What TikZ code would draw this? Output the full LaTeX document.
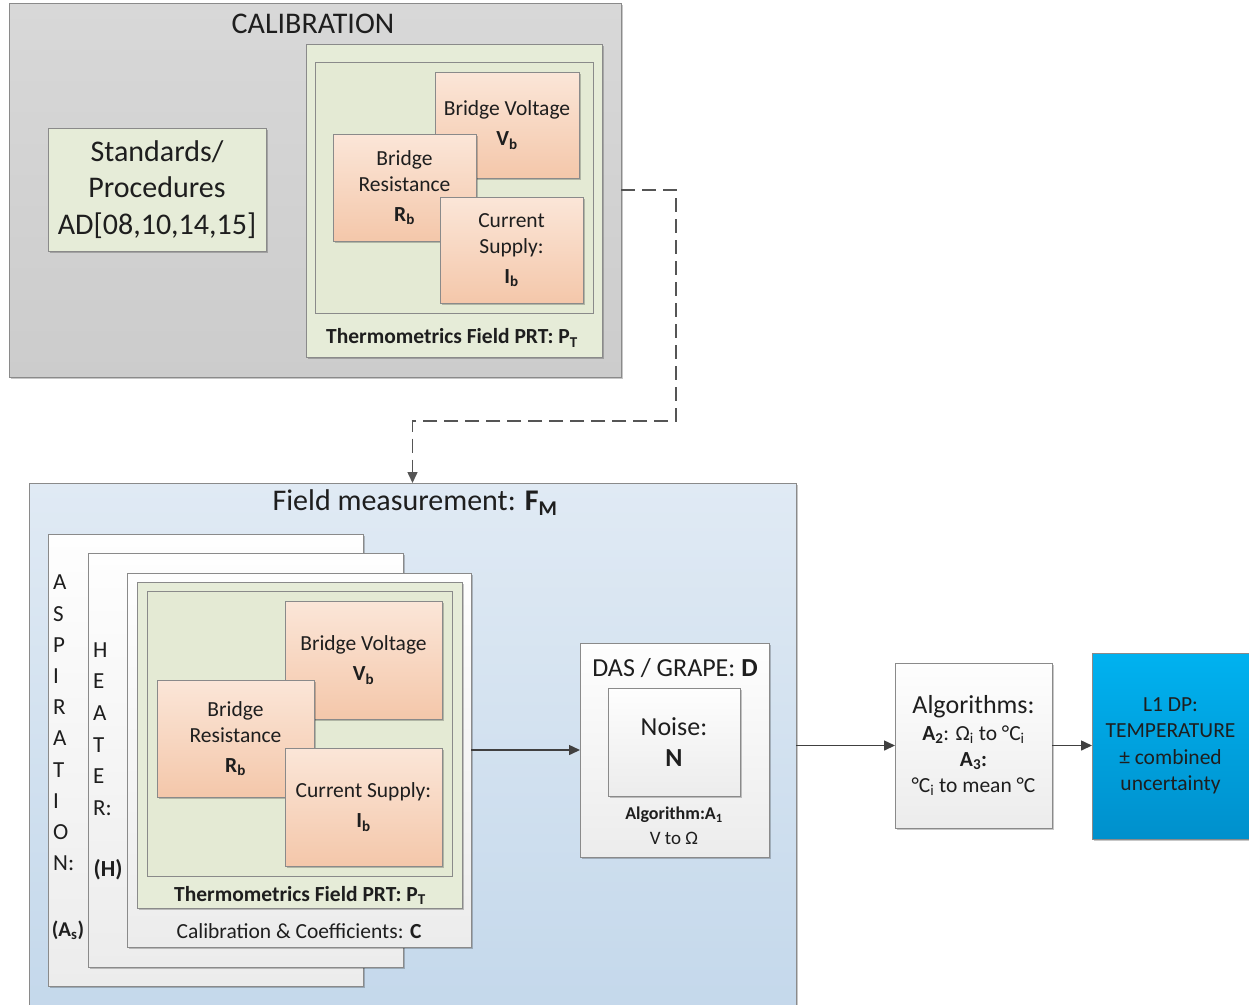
\documentclass[tikz,border=0pt]{standalone}
\usepackage{fontspec}
\setmainfont{Carlito}
\usetikzlibrary{arrows.meta,fit,shadows}
\definecolor{txt}{HTML}{1E1E1E}
\definecolor{bord}{HTML}{8A8A8A}
\definecolor{grayT}{HTML}{D8D8D8}
\definecolor{grayB}{HTML}{CCCCCC}
\definecolor{grn}{HTML}{E6ECD8}
\definecolor{grn2}{HTML}{E4EAD4}
\definecolor{peachT}{HTML}{FBE6D8}
\definecolor{peachB}{HTML}{F4C7AA}
\definecolor{blueT}{HTML}{E0EAF4}
\definecolor{blueB}{HTML}{C4D8EB}
\definecolor{whT}{HTML}{FEFEFE}
\definecolor{whB}{HTML}{ECECEC}
\definecolor{cyT}{HTML}{00B2F0}
\definecolor{cyB}{HTML}{0090CC}
\definecolor{arr}{HTML}{404040}
\definecolor{dsh}{HTML}{555555}
\newcommand\fsz[2]{\fontsize{#1}{#2}\selectfont}
\begin{document}
\begin{tikzpicture}[x=1pt,y=-1pt,
  every node/.style={text=txt},
  bx/.style={draw=bord, line width=1pt, inner sep=0pt, outer sep=0pt},
  shd/.style={drop shadow={shadow xshift=2pt, shadow yshift=-2pt, opacity=0.22, fill=black}},
  graybox/.style={bx, shd, top color=grayT, bottom color=grayB},
  grnbox/.style={bx, shd, fill=grn},
  grninner/.style={bx, fill=grn2},
  peach/.style={bx, shd, top color=peachT, bottom color=peachB},
  bluebox/.style={bx, shd, top color=blueT, bottom color=blueB},
  whbox/.style={bx, shd, top color=whT, bottom color=whB},
  cybox/.style={bx, shd, top color=cyT, bottom color=cyB},
  lbl/.style={inner sep=0pt, align=center},
  conn/.style={draw=arr, line width=1.5pt, -{Triangle[length=11pt,width=10pt]}},
  dconn/.style={draw=dsh, line width=1.5pt, dash pattern=on 14pt off 7pt, -{Triangle[length=11pt,width=10pt]}},
  bodytxt/.style={lbl, font=\fsz{21.5}{26}}
]
\useasboundingbox (0,0) rectangle (1249,1004);
\clip (0,0) rectangle (1249,1004);

% ---------- CALIBRATION ----------
\node[graybox, fit={(9,3) (621,377)}] (cal) {};
\node[lbl, font=\fsz{30}{36}] (calT) at (313,24) {CALIBRATION};
\node[grnbox, fit={(48,128) (266,251)}] (std) {};
\node[lbl, font=\fsz{30}{36.5}] (stdT) at (std) {Standards/\\Procedures\\AD[08,10,14,15]};
\node[grnbox, fit={(306,44) (602,357)}] (prt1) {};
\node[grninner, fit={(315,62) (593,313)}] (prt1i) {};
\node[peach, fit={(435,72) (579,178)}] (v1) {};
\node[bodytxt] (v1t) at (v1) {Bridge Voltage\\[4pt]\textbf{V\textsubscript{b}}};
\node[peach, fit={(333,134) (476,241)}] (r1) {};
\node[bodytxt] (r1t) at (r1) {Bridge\\Resistance\\[4pt]\textbf{R\textsubscript{b}}};
\node[peach, fit={(440,197) (583,303)}] (c1) {};
\node[bodytxt] (c1t) at (c1) {Current\\Supply:\\[4pt]\textbf{I\textsubscript{b}}};
\node[lbl, font=\fsz{21.5}{26}\bfseries] (prt1L) at (452,338) {Thermometrics Field PRT: P\textsubscript{T}};

% ---------- FIELD MEASUREMENT ----------
\node[bluebox, fit={(29,483) (796,1014)}] (fm) {};
\node[lbl, font=\fsz{30}{36}] (fmT) at (415,503) {Field measurement: \textbf{F\textsubscript{M}}};
\node[whbox, fit={(48,534) (363,986)}] (asp) {};
\node[lbl, anchor=west, align=left, font=\fsz{23}{31.2}] (aspL) at (53,723) {A\\S\\P\\I\\R\\A\\T\\I\\O\\N:};
\node[lbl, font=\fsz{21}{26}\bfseries] (aspS) at (68,930) {(A\textsubscript{s})};
\node[whbox, fit={(88,553) (403,967)}] (heat) {};
\node[lbl, anchor=west, align=left, font=\fsz{23}{31.6}] (heatL) at (93,729) {H\\E\\A\\T\\E\\R:};
\node[lbl, font=\fsz{23}{26}\bfseries] (heatS) at (108,870) {(H)};
\node[whbox, fit={(127,573) (471,947)}] (cc) {};
\node[bodytxt] (ccL) at (299,931) {Calibration \& Coefficients: \textbf{C}};
\node[grnbox, fit={(137,582) (462,908)}] (prt2) {};
\node[grninner, fit={(147,591) (452,876)}] (prt2i) {};
\node[peach, fit={(285,601) (442,719)}] (v2) {};
\node[bodytxt] (v2t) at (v2) {Bridge Voltage\\[4pt]\textbf{V\textsubscript{b}}};
\node[peach, fit={(157,680) (314,797)}] (r2) {};
\node[bodytxt] (r2t) at (r2) {Bridge\\Resistance\\[4pt]\textbf{R\textsubscript{b}}};
\node[peach, fit={(285,748) (442,866)}] (c2) {};
\node[bodytxt] (c2t) at (c2) {Current Supply:\\[4pt]\textbf{I\textsubscript{b}}};
\node[lbl, font=\fsz{21.5}{26}\bfseries] (prt2L) at (300,895) {Thermometrics Field PRT: P\textsubscript{T}};

% ---------- DAS ----------
\node[whbox, fit={(580,643) (769,857)}] (das) {};
\node[lbl, font=\fsz{26}{30}] (dasT) at (675,668) {DAS / GRAPE: \textbf{D}};
\node[whbox, fit={(608,688) (740,796)}] (noise) {};
\node[lbl, font=\fsz{26}{31}] (noiseT) at (noise) {Noise:\\\textbf{N}};
\node[lbl, font=\fsz{18}{22}\bfseries] (a1) at (674,815) {Algorithm:A\textsubscript{1}};
\node[lbl, font=\fsz{19}{22}] (a1b) at (674,838) {V to Ω};

% ---------- ALGORITHMS & OUTPUT ----------
\node[whbox, fit={(895,663) (1052,828)}] (alg) {};
\node[bodytxt] (algT) at (alg) {{\fsz{26}{30}Algorithms:}\\[1pt]\textbf{A\textsubscript{2}}: Ω\textsubscript{i} to °C\textsubscript{i}\\\textbf{A\textsubscript{3}:}\\°C\textsubscript{i} to mean °C};
\node[cybox, fit={(1092,653) (1249,839)}] (l1) {};
\node[lbl, font=\fsz{21.5}{26.5}] (l1T) at (l1) {L1 DP:\\TEMPERATURE\\± combined\\uncertainty};

% ---------- CONNECTORS ----------
\coordinate (d1) at (676,421);
\draw[dconn] (cal.east) -| (d1) -| (fm.north);
\draw[conn] (das.west -| cc.east) -- (das.west);
\draw[conn] (alg.west -| fm.east) -- (alg.west);
\draw[conn] (alg.east) -- (alg.east -| l1.west);
\end{tikzpicture}
\end{document}
